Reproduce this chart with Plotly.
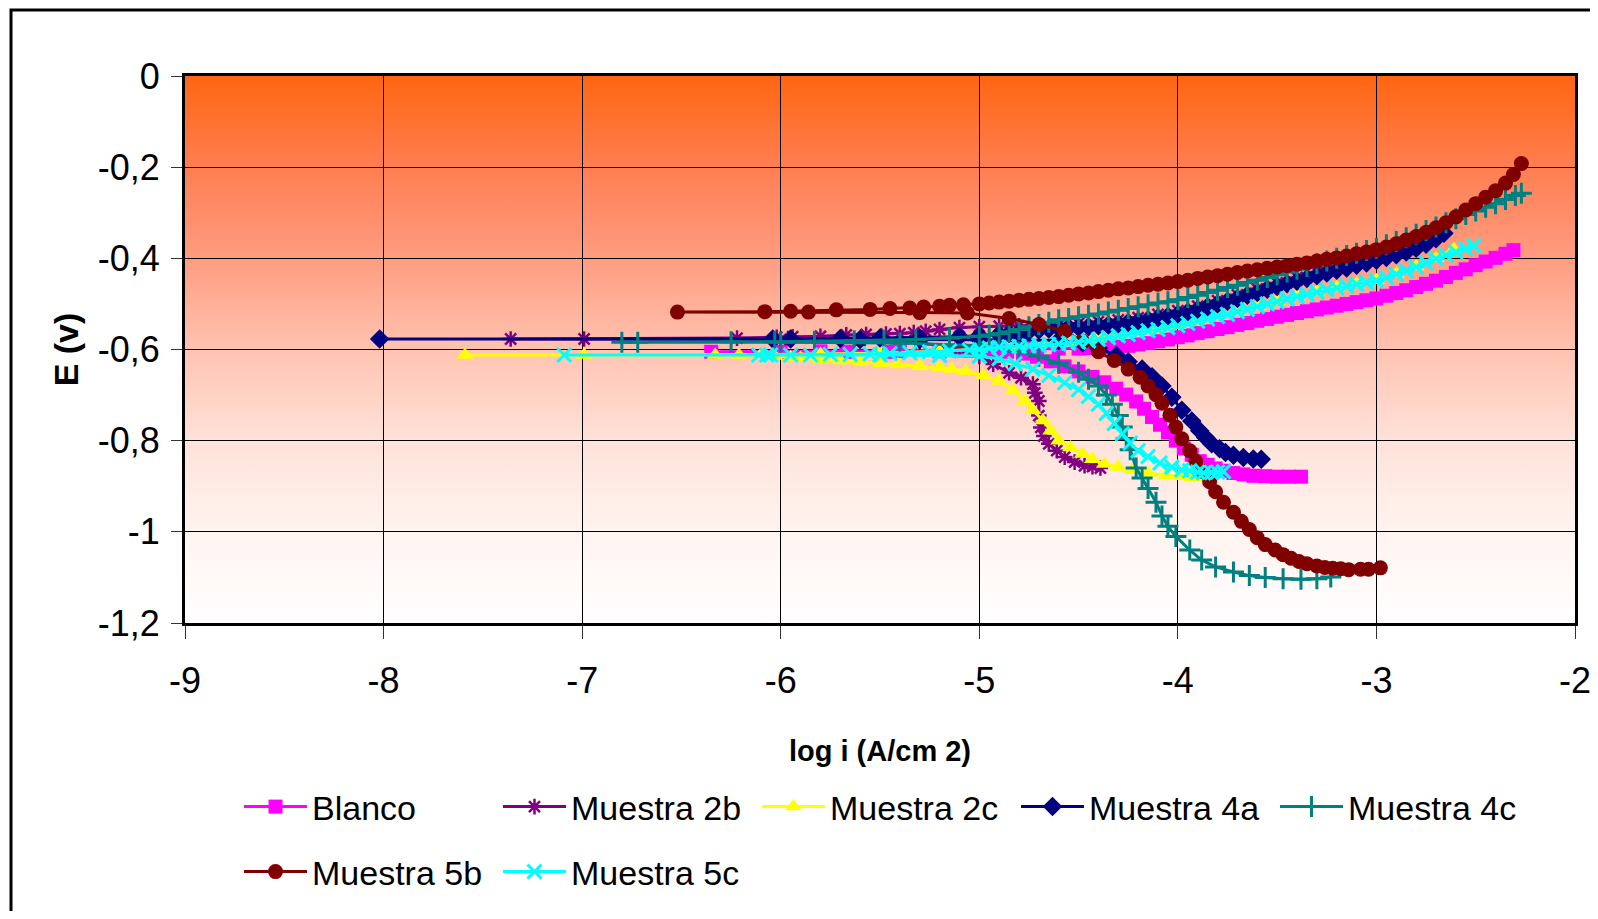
import base64
import plotly.graph_objects as go

# ---------------- data ----------------
series_names = ["Blanco", "Muestra 2b", "Muestra 2c", "Muestra 4a",
                "Muestra 4c", "Muestra 5b", "Muestra 5c"]

blanco_x = [-3.38, -3.44, -3.50, -3.56, -3.62, -3.67, -3.72, -3.77, -3.81, -3.85, -3.89, -3.93,
            -3.97, -4.01, -4.05, -4.09, -4.13, -4.17, -4.21, -4.26, -4.31, -4.37, -4.43, -4.50,
            -4.57, -4.64, -4.71, -4.78, -4.86, -4.95, -5.05, -5.20, -5.45, -5.67, -6.00, -6.35,
            -5.80, -5.40, -5.10, -4.90, -4.75, -4.60, -4.50,
            -4.45, -4.40, -4.35, -4.30, -4.25, -4.20, -4.15, -4.10, -4.05, -4.00, -3.95, -3.90,
            -3.85, -3.80, -3.75, -3.70, -3.65, -3.60, -3.55, -3.50, -3.45, -3.40, -3.35, -3.30,
            -3.25, -3.20, -3.15, -3.10, -3.05, -3.00, -2.95, -2.90, -2.85, -2.80, -2.75, -2.70,
            -2.65, -2.60, -2.55, -2.50, -2.45, -2.40, -2.35, -2.31]
blanco_y = [-0.879, -0.879, -0.879, -0.878, -0.877, -0.874, -0.871, -0.866, -0.861, -0.853, -0.845, -0.831,
            -0.817, -0.800, -0.782, -0.765, -0.748, -0.730, -0.714, -0.699, -0.686, -0.672, -0.660, -0.648,
            -0.637, -0.626, -0.616, -0.609, -0.605, -0.603, -0.603, -0.604, -0.605, -0.605, -0.605, -0.605,
            -0.604, -0.603, -0.602, -0.600, -0.599, -0.598, -0.598,
            -0.597, -0.596, -0.595, -0.594, -0.592, -0.589, -0.586, -0.582, -0.578, -0.573, -0.569, -0.564,
            -0.560, -0.555, -0.551, -0.546, -0.542, -0.537, -0.533, -0.528, -0.524, -0.520, -0.516, -0.512,
            -0.508, -0.504, -0.500, -0.496, -0.492, -0.488, -0.482, -0.476, -0.470, -0.463, -0.456, -0.449,
            -0.441, -0.432, -0.424, -0.415, -0.407, -0.399, -0.390, -0.382]

m2b_x = [-4.39, -4.43, -4.47, -4.52, -4.57, -4.61, -4.65, -4.675, -4.69, -4.70, -4.70, -4.72,
         -4.73, -4.79, -4.85, -4.93, -5.00, -5.10, -5.30, -5.60, -6.00, -6.99, -7.36,
         -6.22, -6.02, -5.94, -5.80, -5.67, -5.57, -5.47, -5.40, -5.33, -5.27, -5.20, -5.10,
         -5.00, -4.90, -4.80, -4.70, -4.60, -4.50, -4.40, -4.30, -4.20, -4.10, -4.00, -3.90,
         -3.80, -3.70, -3.60, -3.50, -3.40, -3.30, -3.20, -3.10, -3.00, -2.90, -2.80, -2.75]
m2b_y = [-0.860, -0.857, -0.855, -0.847, -0.836, -0.822, -0.807, -0.790, -0.771, -0.745, -0.713, -0.695,
         -0.676, -0.662, -0.651, -0.632, -0.615, -0.598, -0.585, -0.580, -0.578, -0.577, -0.577,
         -0.575, -0.573, -0.572, -0.571, -0.568, -0.567, -0.566, -0.565, -0.563, -0.560, -0.556, -0.552,
         -0.550, -0.549, -0.548, -0.548, -0.546, -0.543, -0.539, -0.535, -0.530, -0.523, -0.515, -0.505,
         -0.493, -0.480, -0.467, -0.454, -0.442, -0.430, -0.418, -0.407, -0.396, -0.384, -0.370, -0.356]

m2c_x = [-3.88, -3.93, -3.99, -4.06, -4.15, -4.23, -4.30, -4.37, -4.43, -4.48, -4.54, -4.60,
         -4.64, -4.68, -4.73, -4.77, -4.83, -4.90, -4.98, -5.07, -5.14, -5.20, -5.30, -5.41,
         -5.50, -5.60, -5.70, -5.80, -5.90, -5.95, -6.03, -6.21, -6.33, -6.99, -7.59,
         -6.10, -5.80, -5.50, -5.20, -5.00, -4.80, -4.60, -4.50, -4.40, -4.30, -4.20, -4.10,
         -4.00, -3.90, -3.80, -3.70, -3.60, -3.50, -3.40, -3.30, -3.20, -3.10, -3.00, -2.90,
         -2.80, -2.70, -2.61]
m2c_y = [-0.880, -0.880, -0.878, -0.876, -0.871, -0.865, -0.858, -0.851, -0.841, -0.829, -0.815, -0.800,
         -0.778, -0.756, -0.733, -0.713, -0.690, -0.669, -0.657, -0.647, -0.643, -0.640, -0.637, -0.633,
         -0.630, -0.627, -0.624, -0.622, -0.618, -0.617, -0.614, -0.612, -0.612, -0.612, -0.612,
         -0.611, -0.610, -0.608, -0.604, -0.599, -0.592, -0.587, -0.583, -0.577, -0.569, -0.562, -0.555,
         -0.547, -0.537, -0.527, -0.516, -0.505, -0.494, -0.483, -0.473, -0.464, -0.456, -0.448, -0.434,
         -0.418, -0.400, -0.380]

m4a_x = [-3.58, -3.62, -3.67, -3.72, -3.76, -3.79, -3.83, -3.86, -3.89, -3.93, -3.98, -4.03,
         -4.08, -4.13, -4.18, -4.25, -4.31, -4.40, -4.48, -4.60, -4.80, -5.00, -5.30, -5.60,
         -6.04, -8.02,
         -5.95, -5.70, -5.50, -5.30, -5.10, -5.00,
         -4.90, -4.85, -4.80, -4.75, -4.70, -4.65, -4.60, -4.55, -4.50, -4.45, -4.40, -4.35,
         -4.30, -4.25, -4.20, -4.15, -4.10, -4.05, -4.00, -3.95, -3.90, -3.85, -3.80, -3.75,
         -3.70, -3.65, -3.60, -3.55, -3.50, -3.45, -3.40, -3.35, -3.30, -3.25, -3.20, -3.15,
         -3.10, -3.05, -3.00, -2.95, -2.90, -2.85, -2.80, -2.75, -2.70, -2.66]
m4a_y = [-0.841, -0.840, -0.837, -0.832, -0.826, -0.818, -0.807, -0.793, -0.778, -0.757, -0.733, -0.705,
         -0.680, -0.660, -0.643, -0.627, -0.613, -0.597, -0.585, -0.580, -0.579, -0.578, -0.578, -0.578,
         -0.577, -0.577,
         -0.577, -0.576, -0.575, -0.574, -0.572, -0.570,
         -0.567, -0.565, -0.562, -0.560, -0.557, -0.555, -0.553, -0.552, -0.551, -0.550, -0.548, -0.546,
         -0.544, -0.541, -0.538, -0.535, -0.531, -0.527, -0.523, -0.518, -0.512, -0.506, -0.500, -0.494,
         -0.488, -0.481, -0.475, -0.468, -0.462, -0.456, -0.450, -0.444, -0.438, -0.432, -0.426, -0.421,
         -0.415, -0.410, -0.404, -0.398, -0.392, -0.386, -0.378, -0.369, -0.357, -0.345]

m4c_x = [-3.23, -3.30, -3.38, -3.47, -3.56, -3.64, -3.72, -3.81, -3.88, -3.94, -4.01, -4.05,
         -4.08, -4.11, -4.15, -4.18, -4.21, -4.24, -4.26, -4.28, -4.30, -4.33, -4.36, -4.40,
         -4.45, -4.50, -4.60, -4.70, -4.80, -5.00, -5.40, -6.00, -6.72, -6.80,
         -6.25, -6.03, -5.83, -5.63, -5.48, -5.32, -5.15, -5.00,
         -4.95, -4.90, -4.85, -4.80, -4.75, -4.70, -4.65, -4.60, -4.55, -4.50, -4.45, -4.40,
         -4.35, -4.30, -4.25, -4.20, -4.15, -4.10, -4.05, -4.00, -3.95, -3.90, -3.85, -3.80,
         -3.75, -3.70, -3.65, -3.60, -3.55, -3.50, -3.45, -3.40, -3.35, -3.30, -3.25, -3.20,
         -3.15, -3.10, -3.05, -3.00, -2.95, -2.90, -2.85, -2.80, -2.75, -2.70, -2.65, -2.60,
         -2.55, -2.50, -2.45, -2.40, -2.35, -2.30, -2.27]
m4c_y = [-1.099, -1.103, -1.104, -1.103, -1.100, -1.096, -1.088, -1.077, -1.062, -1.040, -1.010, -0.988,
         -0.965, -0.935, -0.905, -0.882, -0.860, -0.820, -0.795, -0.770, -0.745, -0.720, -0.700, -0.680,
         -0.665, -0.650, -0.630, -0.615, -0.605, -0.592, -0.586, -0.584, -0.584, -0.584,
         -0.583, -0.583, -0.582, -0.581, -0.580, -0.578, -0.575, -0.571,
         -0.568, -0.565, -0.561, -0.556, -0.550, -0.545, -0.540, -0.535, -0.532, -0.528, -0.525, -0.522,
         -0.518, -0.514, -0.510, -0.506, -0.502, -0.498, -0.495, -0.491, -0.486, -0.481, -0.475, -0.470,
         -0.464, -0.459, -0.453, -0.448, -0.442, -0.436, -0.430, -0.424, -0.418, -0.412, -0.406, -0.400,
         -0.394, -0.389, -0.383, -0.378, -0.370, -0.363, -0.355, -0.347, -0.339, -0.331, -0.322, -0.313,
         -0.304, -0.296, -0.288, -0.280, -0.271, -0.262, -0.257]

m5b_x = [-2.98, -3.04, -3.08, -3.14, -3.18, -3.22, -3.26, -3.30, -3.35, -3.39, -3.43, -3.47,
         -3.51, -3.56, -3.60, -3.64, -3.68, -3.72, -3.77, -3.81, -3.84, -3.88, -3.91, -3.94,
         -3.98, -4.01, -4.04, -4.08, -4.11, -4.15, -4.19, -4.25, -4.32, -4.40, -4.48, -4.57,
         -4.70, -4.85, -5.06, -5.30, -5.86, -6.52,
         -6.08, -5.95, -5.72, -5.55, -5.45, -5.35, -5.28, -5.20, -5.15, -5.08,
         -5.00, -4.95, -4.90, -4.85, -4.80, -4.75, -4.70, -4.65, -4.60, -4.55, -4.50, -4.45,
         -4.40, -4.35, -4.30, -4.25, -4.20, -4.15, -4.10, -4.05, -4.00, -3.95, -3.90, -3.85,
         -3.80, -3.75, -3.70, -3.65, -3.60, -3.55, -3.50, -3.45, -3.40, -3.35, -3.30, -3.25,
         -3.20, -3.15, -3.10, -3.05, -3.00, -2.95, -2.90, -2.85, -2.80, -2.75, -2.70, -2.65,
         -2.60, -2.55, -2.50, -2.45, -2.40, -2.35, -2.31, -2.27]
m5b_y = [-1.079, -1.082, -1.082, -1.083, -1.081, -1.080, -1.078, -1.075, -1.070, -1.065, -1.058, -1.050,
         -1.040, -1.028, -1.013, -0.995, -0.977, -0.957, -0.935, -0.912, -0.890, -0.867, -0.845, -0.822,
         -0.796, -0.770, -0.744, -0.718, -0.699, -0.680, -0.661, -0.643, -0.624, -0.605, -0.582, -0.560,
         -0.545, -0.532, -0.520, -0.519, -0.518, -0.518,
         -0.517, -0.516, -0.513, -0.512, -0.510, -0.509, -0.507, -0.505, -0.503, -0.502,
         -0.500, -0.498, -0.496, -0.494, -0.492, -0.490, -0.488, -0.486, -0.484, -0.481, -0.478, -0.476,
         -0.473, -0.470, -0.467, -0.465, -0.462, -0.459, -0.457, -0.454, -0.451, -0.448, -0.444, -0.441,
         -0.438, -0.435, -0.431, -0.428, -0.425, -0.422, -0.419, -0.416, -0.413, -0.410, -0.406, -0.402,
         -0.399, -0.395, -0.390, -0.386, -0.381, -0.375, -0.368, -0.360, -0.352, -0.343, -0.333, -0.322,
         -0.309, -0.294, -0.280, -0.266, -0.252, -0.235, -0.216, -0.192]

m5c_x = [-3.77, -3.80, -3.83, -3.87, -3.90, -3.94, -3.98, -4.03, -4.09, -4.15, -4.20, -4.24,
         -4.28, -4.32, -4.36, -4.40, -4.45, -4.50, -4.57, -4.65, -4.73, -4.82, -4.90, -5.00,
         -5.20, -5.50, -6.07, -6.11, -7.09,
         -6.05, -5.95, -5.85, -5.75, -5.65, -5.55, -5.45, -5.35, -5.25, -5.15, -5.05,
         -5.00, -4.95, -4.90, -4.85, -4.80, -4.75, -4.70, -4.65, -4.60, -4.55, -4.50, -4.45,
         -4.40, -4.35, -4.30, -4.25, -4.20, -4.15, -4.10, -4.05, -4.00, -3.95, -3.90, -3.85,
         -3.80, -3.75, -3.70, -3.65, -3.60, -3.55, -3.50, -3.45, -3.40, -3.35, -3.30, -3.25,
         -3.20, -3.15, -3.10, -3.05, -3.00, -2.95, -2.90, -2.85, -2.80, -2.75, -2.70, -2.65,
         -2.60, -2.55, -2.51]
m5c_y = [-0.868, -0.869, -0.870, -0.871, -0.869, -0.866, -0.864, -0.858, -0.849, -0.835, -0.822, -0.805,
         -0.785, -0.762, -0.740, -0.720, -0.703, -0.688, -0.673, -0.657, -0.643, -0.631, -0.620, -0.615,
         -0.613, -0.612, -0.612, -0.612, -0.612,
         -0.612, -0.612, -0.612, -0.611, -0.611, -0.610, -0.609, -0.607, -0.605, -0.603, -0.601,
         -0.600, -0.597, -0.595, -0.594, -0.593, -0.592, -0.591, -0.589, -0.588, -0.586, -0.584, -0.581,
         -0.578, -0.574, -0.570, -0.567, -0.563, -0.559, -0.556, -0.552, -0.548, -0.543, -0.538, -0.533,
         -0.528, -0.523, -0.517, -0.512, -0.506, -0.500, -0.495, -0.489, -0.484, -0.479, -0.474, -0.469,
         -0.465, -0.461, -0.457, -0.453, -0.449, -0.442, -0.435, -0.427, -0.419, -0.410, -0.401, -0.393,
         -0.386, -0.379, -0.372]

x_tick_vals = [-9, -8, -7, -6, -5, -4, -3, -2]
x_tick_text = ["-9", "-8", "-7", "-6", "-5", "-4", "-3", "-2"]
y_tick_vals = [0, -0.2, -0.4, -0.6, -0.8, -1.0, -1.2]
y_tick_text = ["0", "-0,2", "-0,4", "-0,6", "-0,8", "-1", "-1,2"]

x_title = "log i (A/cm 2)"
y_title = "E (v)"

# ---------------- styles ----------------
colors = ["#FF00FF", "#800080", "#FFFF00", "#000080", "#008080", "#800000", "#00FFFF"]
symbols = ["square", "asterisk-open", "triangle-up", "diamond",
           "cross-thin-open", "circle", "x-thin-open"]
msizes = [14, 13, 15, 15, 15, 15, 14]
mlinew = [0, 2.5, 0, 0, 3, 0, 3]
legend_ids = ["legend", "legend", "legend", "legend", "legend", "legend2", "legend2"]

xs = [blanco_x, m2b_x, m2c_x, m4a_x, m4c_x, m5b_x, m5c_x]
ys = [blanco_y, m2b_y, m2c_y, m4a_y, m4c_y, m5b_y, m5c_y]

FONT = "Liberation Sans, Arial, sans-serif"

fig = go.Figure()
for name, x, y, c, s, ms, lw, lg in zip(series_names, xs, ys, colors, symbols, msizes, mlinew, legend_ids):
    fig.add_trace(go.Scatter(
        x=x, y=y, mode="lines+markers", name=name, legend=lg,
        line=dict(color=c, width=3),
        marker=dict(symbol=s, size=ms, color=c, line=dict(color=c, width=lw)),
    ))

# gradient plot-area background as an SVG image
svg = ('<svg xmlns="http://www.w3.org/2000/svg" width="100" height="100" preserveAspectRatio="none">'
       '<defs><linearGradient id="g" x1="0" y1="0" x2="0" y2="1">'
       '<stop offset="0" stop-color="#FF6612"/>'
       '<stop offset="0.1667" stop-color="#FF7E52"/>'
       '<stop offset="0.3333" stop-color="#FF9C80"/>'
       '<stop offset="0.5" stop-color="#FFC3B1"/>'
       '<stop offset="0.6667" stop-color="#FFE2D9"/>'
       '<stop offset="0.8333" stop-color="#FFF4F0"/>'
       '<stop offset="1" stop-color="#FFFFFF"/>'
       '</linearGradient></defs><rect width="100" height="100" fill="url(#g)"/></svg>')
src = "data:image/svg+xml;base64," + base64.b64encode(svg.encode()).decode()

# page body has an 8px margin; the figure is sized to fit the 1598x919 window
# without overflow, with the plot area at x 185..1575, y 76..623 of the page
OFF = 8
W, H = 1598 - 2 * OFF, 919 - 2 * OFF
L, T = 185 - OFF, 76 - OFF
R = (OFF + W) - 1575
B = (OFF + H) - 623
pw, ph = 1575 - 185, 623 - 76

def py(page_y):
    return (623 - page_y) / ph

def px(page_x):
    return (page_x - 185) / pw

legend_common = dict(orientation="h", xanchor="left", yanchor="middle",
                     font=dict(family=FONT, size=34, color="black"),
                     entrywidth=181, entrywidthmode="pixels",
                     bgcolor="rgba(0,0,0,0)", itemwidth=63)

fig.update_layout(
    width=W, height=H, autosize=False,
    margin=dict(l=L, r=R, t=T, b=B, autoexpand=False),
    paper_bgcolor="white", plot_bgcolor="white",
    font=dict(family=FONT, size=36, color="black"),
    images=[dict(source=src, xref="paper", yref="paper", x=0, y=1, sizex=1, sizey=1,
                 sizing="stretch", xanchor="left", yanchor="top", layer="below")],
    shapes=[dict(type="rect", xref="paper", yref="paper",
                 x0=px(11), x1=1.08, y0=-0.8, y1=py(10),
                 line=dict(color="black", width=3), fillcolor="rgba(0,0,0,0)", layer="above")],
    showlegend=True,
    legend=dict(x=px(239), y=py(807), **legend_common),
    legend2=dict(x=px(239), y=py(872), **legend_common),
)

fig.update_xaxes(
    range=[-9, -2], tickmode="array", tickvals=x_tick_vals, ticktext=x_tick_text,
    showgrid=True, gridcolor="black", gridwidth=1, zeroline=False,
    showline=True, linecolor="black", linewidth=3, mirror=True,
    ticks="outside", ticklen=13, tickcolor="#333", tickwidth=1,
    ticklabelstandoff=11, ticklabeloverflow="allow", automargin=False,
    tickfont=dict(family=FONT, size=36),
    title=dict(text="<b>" + x_title + "</b>", font=dict(family=FONT, size=29), standoff=41),
)
fig.update_yaxes(
    range=[-1.2, 0], tickmode="array", tickvals=y_tick_vals, ticktext=y_tick_text,
    showgrid=True, gridcolor="black", gridwidth=1, zeroline=False,
    showline=True, linecolor="black", linewidth=3, mirror=True,
    ticks="outside", ticklen=11, tickcolor="#333", tickwidth=1,
    ticklabelstandoff=4, automargin=False,
    tickfont=dict(family=FONT, size=36),
    title=dict(text="<b>" + y_title + "</b>", font=dict(family=FONT, size=34), standoff=9),
)

fig.write_html("out.html")
